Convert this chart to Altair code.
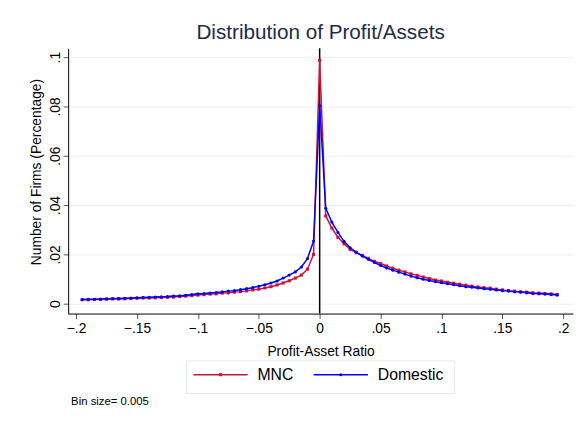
import altair as alt
import pandas as pd

FONT = "Liberation Sans"

# bin centres (bin size 0.005)
bin_x = [round(i * 0.005, 3) for i in range(-39, 40)]

mnc = [
    0.0016, 0.0016, 0.0017, 0.0017, 0.0018, 0.0019, 0.0019, 0.0020, 0.0021, 0.0022,
    0.0023, 0.0023, 0.0024, 0.0025, 0.0026, 0.0027, 0.0029, 0.0031, 0.0033, 0.0035,
    0.0037, 0.0039, 0.0040, 0.0043, 0.0044, 0.0047, 0.0049, 0.0052, 0.0056, 0.0059,
    0.0064, 0.0069, 0.0076, 0.0084, 0.0093, 0.0104, 0.0116, 0.0140, 0.0200,
    0.0987,
    0.0356, 0.0307, 0.0269, 0.0243, 0.0220, 0.0207, 0.0196, 0.0184, 0.0172, 0.0163,
    0.0153, 0.0144, 0.0136, 0.0129, 0.0121, 0.0115, 0.0108, 0.0102, 0.0096, 0.0092,
    0.0087, 0.0083, 0.0079, 0.0075, 0.0071, 0.0068, 0.0065, 0.0063, 0.0059, 0.0056,
    0.0053, 0.0051, 0.0048, 0.0047, 0.0044, 0.0043, 0.0041, 0.0040, 0.0037,
]

domestic = [
    0.0017, 0.0018, 0.0018, 0.0019, 0.0020, 0.0021, 0.0021, 0.0022, 0.0023, 0.0024,
    0.0025, 0.0026, 0.0027, 0.0028, 0.0029, 0.0031, 0.0032, 0.0034, 0.0037, 0.0040,
    0.0041, 0.0043, 0.0045, 0.0048, 0.0051, 0.0053, 0.0057, 0.0061, 0.0065, 0.0071,
    0.0077, 0.0084, 0.0092, 0.0104, 0.0116, 0.0129, 0.0149, 0.0183, 0.0254,
    0.0804,
    0.0387, 0.0331, 0.0289, 0.0253, 0.0227, 0.0209, 0.0193, 0.0180, 0.0167, 0.0155,
    0.0145, 0.0136, 0.0128, 0.0120, 0.0112, 0.0105, 0.0099, 0.0094, 0.0089, 0.0085,
    0.0081, 0.0077, 0.0073, 0.0069, 0.0067, 0.0064, 0.0061, 0.0059, 0.0056, 0.0053,
    0.0051, 0.0048, 0.0047, 0.0044, 0.0041, 0.0040, 0.0039, 0.0037, 0.0035,
]

series_names = ["MNC", "Domestic"]
series_colors = ["#cc1439", "#0000ff"]
series_shapes = ["square", "circle"]
x_ticks = [-0.2, -0.15, -0.1, -0.05, 0, 0.05, 0.1, 0.15, 0.2]
y_ticks = [0, 0.02, 0.04, 0.06, 0.08, 0.1]

assert len(mnc) == len(bin_x) == len(domestic)

df = pd.DataFrame({
    "x": bin_x * 2,
    "y": mnc + domestic,
    "series": [series_names[0]] * len(bin_x) + [series_names[1]] * len(bin_x),
})

label_expr = "datum.value == 0 ? '0' : replace(format(datum.value, '.2~f'), '0.', '.')"

x_enc = alt.X(
    "x:Q",
    scale=alt.Scale(domain=[-0.2065, 0.208], nice=False, zero=False),
    axis=alt.Axis(
        values=x_ticks, labelExpr=label_expr, title="Profit-Asset Ratio",
        grid=False, tickSize=5, labelPadding=3, titlePadding=10,
    ),
)
y_enc = alt.Y(
    "y:Q",
    scale=alt.Scale(domain=[-0.004, 0.1036], nice=False, zero=False),
    axis=alt.Axis(
        values=y_ticks, labelExpr=label_expr, title="Number of Firms (Percentage)",
        grid=True, tickSize=5, labelAngle=270, labelAlign="center",
        labelBaseline="bottom", labelPadding=1,
        titleX=-32, titleY=125, titleAlign="center", titleBaseline="middle", titleAngle=270,
    ),
)

base = alt.Chart(df)

layers = []
for name, col, shp in zip(series_names, series_colors, series_shapes):
    layers.append(
        base.transform_filter(alt.datum.series == name)
        .mark_line(
            color=col, strokeWidth=1.5,
            point=alt.OverlayMarkDef(filled=True, size=10, color=col, shape=shp),
        )
        .encode(x=x_enc, y=y_enc)
    )

zero_line = alt.Chart(pd.DataFrame({"x": [0]})).mark_rule(
    color="black", strokeWidth=1.5
).encode(x="x:Q")

# legend (decoration)
legend_df = pd.DataFrame({"series": series_names})
legend_box = alt.Chart(pd.DataFrame({"a": [1]})).mark_rect(
    fill="white", stroke="#e3eaec", strokeWidth=1
).encode(x=alt.value(120), x2=alt.value(392), y=alt.value(317), y2=alt.value(350))

legend_layers = [legend_box]
entry_x = [127, 249]
for i, (name, col, shp) in enumerate(zip(series_names, series_colors, series_shapes)):
    ldf = legend_df[legend_df.series == name]
    x0 = entry_x[i]
    legend_layers.append(
        alt.Chart(ldf).mark_rule(color=col, strokeWidth=1.5).encode(
            x=alt.value(x0), x2=alt.value(x0 + 55), y=alt.value(331))
    )
    legend_layers.append(
        alt.Chart(ldf).mark_point(filled=True, size=10, color=col, shape=shp, opacity=1).encode(
            x=alt.value(x0 + 27.5), y=alt.value(331))
    )
    legend_layers.append(
        alt.Chart(ldf).mark_text(align="left", baseline="middle", fontSize=16, font=FONT, color="black").encode(
            x=alt.value(x0 + 65), y=alt.value(331), text="series:N")
    )

note = alt.Chart(pd.DataFrame({"t": ["Bin size= 0.005"]})).mark_text(
    align="left", baseline="middle", fontSize=11.5, font=FONT, color="black"
).encode(x=alt.value(3), y=alt.value(359), text="t:N")

chart = alt.layer(
    zero_line, *layers, *legend_layers, note
).properties(
    width=512, height=269,
    title=alt.TitleParams(
        "Distribution of Profit/Assets", fontSize=21, font=FONT, color="#1c2b4b",
        fontWeight="normal", anchor="middle", offset=5,
    ),
    autosize=alt.AutoSizeParams(type="none"),
    padding={"left": 61, "top": 38, "right": 1, "bottom": 100},
    background="white",
).configure_view(
    stroke=None
).configure_axis(
    domainColor="black", domainWidth=1, tickColor="#555555", tickWidth=1,
    labelFont=FONT, labelFontSize=14, labelColor="black",
    titleFont=FONT, titleFontSize=14, titleColor="black", titleFontWeight="normal",
    gridColor="#e9f0f1", gridWidth=1,
)

chart.save("out.html", embed_options={"renderer": "svg", "actions": False})
